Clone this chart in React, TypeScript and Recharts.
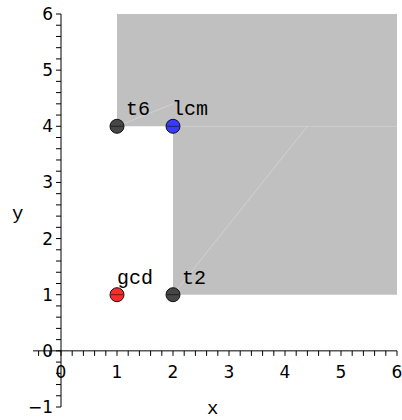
import React from 'react';
import {
  ComposedChart,
  XAxis,
  YAxis,
  Scatter,
  ReferenceArea,
  ReferenceLine,
} from 'recharts';

// Labelled points
const pointNames = ['t6', 'lcm', 'gcd', 't2'];
const pointX = [1, 2, 1, 2];
const pointY = [4, 4, 1, 1];
const pointColors = ['#464646', '#3a3aff', '#ff2a2a', '#464646'];

// Shaded region, as two rectangles (x1, x2, y1, y2)
const regionX1 = [1, 2];
const regionX2 = [6, 6];
const regionY1 = [4, 1];
const regionY2 = [6, 4];

// Faint edges inside the shaded region
const seamFrom = [
  { x: 1, y: 4 },
  { x: 2, y: 1 },
];
const seamTo = [
  { x: 2, y: 4.4 },
  { x: 4.4, y: 4 },
];

// Axes
const xDomain = [-0.5, 6];
const yDomain = [-1, 6];
const xTickLabels = [0, 1, 2, 3, 4, 5, 6];
const yTickLabels = [-1, 1, 2, 3, 4, 5, 6];
const minorStep = 0.2;

// Label placement around each point (pixels)
const labelOffset: Record<string, { dx: number; dy: number }> = {
  t6: { dx: 9, dy: -11 },
  lcm: { dx: -1, dy: -11 },
  gcd: { dx: 0, dy: -11 },
  t2: { dx: 9, dy: -11 },
};

const MONO = '"Liberation Mono", "Courier New", monospace';
const SANS = '"DejaVu Sans", sans-serif';

function steps(from: number, to: number, step: number): number[] {
  const out: number[] = [];
  const n = Math.round((to - from) / step);
  for (let i = 0; i <= n; i++) out.push(Math.round((from + i * step) * 1000) / 1000);
  return out;
}

const xMinor = steps(-0.4, 6, minorStep).map((x) => ({ x, y: 0 }));
const yMinor = steps(-1, 6, minorStep).map((y) => ({ x: 0, y }));

const points = pointNames.map((name, i) => ({
  name,
  x: pointX[i],
  y: pointY[i],
  color: pointColors[i],
}));

const xLabelData = xTickLabels.map((v) => ({ x: v, y: 0, text: String(v) }));
const yLabelData = yTickLabels.map((v) => ({ x: 0, y: v, text: v < 0 ? '\u2212' + Math.abs(v) : String(v) }));

const XTickMark = (p: any) => (
  <line x1={p.cx} y1={p.cy} x2={p.cx} y2={p.cy + 5} stroke="#000" strokeWidth={1} />
);
const YTickMark = (p: any) => (
  <line x1={p.cx - 5} y1={p.cy} x2={p.cx} y2={p.cy} stroke="#000" strokeWidth={1} />
);

const XTickText = (p: any) => (
  <text x={p.cx} y={p.cy + 27} textAnchor="middle" fontFamily={SANS} fontSize={17} fill="#000">
    {p.payload.text}
  </text>
);
const YTickText = (p: any) => (
  <text x={p.cx - 8} y={p.cy + 6} textAnchor="end" fontFamily={SANS} fontSize={17} fill="#000">
    {p.payload.text}
  </text>
);
// the y-axis zero label sits just left of the origin
const ZeroText = (p: any) => (
  <text x={p.cx - 8} y={p.cy + 6} textAnchor="end" fontFamily={SANS} fontSize={17} fill="#000">
    0
  </text>
);

const PointMark = (p: any) => (
  <g>
    <circle cx={p.cx} cy={p.cy} r={7} fill={p.payload.color} stroke="#111" strokeWidth={1} />
    <line x1={p.cx - 6} y1={p.cy} x2={p.cx + 6} y2={p.cy} stroke="#000" strokeOpacity={0.55} strokeWidth={1} />
  </g>
);

const PointLabel = (p: any) => {
  const off = labelOffset[p.payload.name];
  return (
    <text x={p.cx + off.dx} y={p.cy + off.dy} fontFamily={MONO} fontSize={20} fill="#000">
      {p.payload.name}
    </text>
  );
};

export default function App() {
  return (
    <div style={{ position: 'absolute', left: 0, top: 0, width: 402, height: 420 }}>
      <ComposedChart
        width={402}
        height={420}
        margin={{ top: 14, right: 5, bottom: 13, left: 33 }}
      >
        <XAxis type="number" dataKey="x" domain={xDomain} hide />
        <YAxis type="number" dataKey="y" domain={yDomain} hide />

        {regionX1.map((_, i) => (
          <ReferenceArea
            key={'r' + i}
            x1={regionX1[i]}
            x2={regionX2[i]}
            y1={regionY1[i]}
            y2={regionY2[i]}
            fill="#c0c0c0"
            fillOpacity={1}
            stroke="none"
            ifOverflow="visible"
          />
        ))}
        {seamFrom.map((s, i) => (
          <ReferenceLine
            key={'s' + i}
            segment={[s, seamTo[i]]}
            stroke="#d2d2d2"
            strokeWidth={1}
          />
        ))}

        <ReferenceLine y={0} stroke="#000" strokeWidth={1} />
        <ReferenceLine x={0} stroke="#000" strokeWidth={1} />

        <Scatter data={xMinor} shape={XTickMark} isAnimationActive={false} />
        <Scatter data={yMinor} shape={YTickMark} isAnimationActive={false} />
        <Scatter data={xLabelData} shape={XTickText} isAnimationActive={false} />
        <Scatter data={yLabelData} shape={YTickText} isAnimationActive={false} />
        <Scatter data={[{ x: 0, y: 0 }]} shape={ZeroText} isAnimationActive={false} />

        <Scatter data={points} shape={PointMark} isAnimationActive={false} />
        <Scatter data={points} shape={PointLabel} isAnimationActive={false} />

        <text x={12} y={219} fontFamily={MONO} fontSize={19} fill="#000">
          y
        </text>
        <text x={207} y={414} fontFamily={MONO} fontSize={19} fill="#000">
          x
        </text>
      </ComposedChart>
    </div>
  );
}
